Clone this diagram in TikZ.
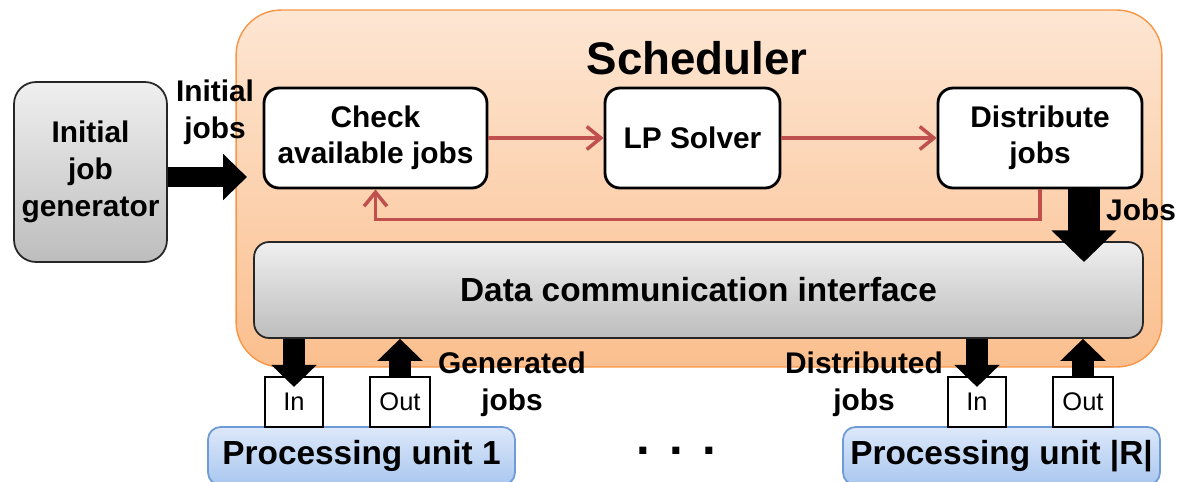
\documentclass[tikz,border=0pt]{standalone}
\usepackage{fontspec}
\setmainfont{Liberation Sans}
\usetikzlibrary{arrows.meta,calc}
\definecolor{redarr}{HTML}{C0504D}
\definecolor{orborder}{HTML}{F79646}
\definecolor{ortop}{HTML}{FDE6D3}
\definecolor{orbot}{HTML}{FBBF8E}
\definecolor{graytop}{HTML}{EFEFEF}
\definecolor{graybot}{HTML}{BDBDBD}
\definecolor{bluetop}{HTML}{DDE8FA}
\definecolor{bluebot}{HTML}{A9C7EF}
\definecolor{blueborder}{HTML}{6E9BD5}
\tikzset{
  lbl/.style={font=\bfseries\fontsize{17}{21}\selectfont, align=center, inner sep=0pt},
  whitebox/.style={draw=black, line width=1.6pt, fill=white, rounded corners=0.3cm,
    font=\bfseries\fontsize{17}{20.5}\selectfont, align=center, minimum height=2cm, inner sep=0pt},
  graybox/.style={draw=black!85, line width=1pt, top color=graytop, bottom color=graybot,
    font=\bfseries\fontsize{17}{21}\selectfont, align=center, inner sep=0pt},
  bluebox/.style={draw=blueborder, line width=1pt, top color=bluetop, bottom color=bluebot,
    rounded corners=0.25cm, font=\bfseries\fontsize{19}{22}\selectfont, inner sep=0pt},
  portbox/.style={draw=black, line width=1.2pt, fill=white, minimum width=1.16cm,
    minimum height=1cm, inner sep=0pt, font=\fontsize{14.5}{17}\selectfont},
  redflow/.style={draw=redarr, line width=2pt, -{Straight Barb[length=8pt,width=13pt,line width=2pt]}},
  fatarrow/.style={draw=black, line width=11pt, -{Triangle[width=25.5pt,length=13.6pt]}},
  portarrow/.style={draw=black, line width=12.5pt, -{Triangle[width=25pt,length=12.5pt]}},
  jobsarrow/.style={draw=black, line width=18pt, -{Triangle[width=36pt,length=18pt]}}
}
\begin{document}
\begin{tikzpicture}[x=0.02cm,y=-0.02cm]
\useasboundingbox (0,0) rectangle (1178,481);

% scheduler container
\node[draw=orborder, line width=0.8pt, top color=ortop, bottom color=orbot,
      rounded corners=0.9cm, minimum width=18.52cm, minimum height=7.14cm, inner sep=0pt]
      (sched) at (699,188.5) {};
\node[font=\bfseries\fontsize{26}{30}\selectfont, inner sep=0pt] (title) at (697,58) {Scheduler};

% initial job generator
\node[graybox, rounded corners=0.44cm, minimum width=3.06cm, minimum height=3.6cm]
      (gen) at (90.5,172) {Initial\\job\\generator};

% scheduler internals
\node[whitebox, minimum width=4.46cm] (check) at (375.5,138) {Check\\available jobs};
\node[whitebox, minimum width=3.5cm] (lp) at (692.5,138) {LP Solver};
\node[whitebox, minimum width=4.08cm] (dist) at (1040,138) {Distribute\\jobs};

\node[graybox, rounded corners=0.3cm, minimum width=17.78cm, minimum height=1.92cm,
      font=\bfseries\fontsize{19}{22}\selectfont]
      (dci) at (698.5,290) {Data communication interface};

% processing units
\node[bluebox, minimum width=6.14cm, minimum height=1.16cm] (pu1) at (361.5,456) {Processing unit 1};
\node[bluebox, minimum width=6.34cm, minimum height=1.16cm] (puR) at (1001.5,456) {Processing unit |R|};

\node[portbox] (in1) at (294,402) {In};
\node[portbox, minimum width=1.2cm] (out1) at (400,402) {Out};
\node[portbox] (inR) at (977,402) {In};
\node[portbox, minimum width=1.2cm] (outR) at (1083,402) {Out};

% labels
\node[lbl] (lblinit) at (215,112) {Initial\\jobs};
\node[lbl] (lbljobs) at (1141,210) {Jobs};
\node[lbl] (lblgen) at (512,384) {Generated\\jobs};
\node[lbl] (lbldist) at (864,384) {Distributed\\jobs};
\node[font=\bfseries\fontsize{28}{30}\selectfont, inner sep=0pt] (dots) at (676,451) {.\hspace{11pt}.\hspace{11pt}.};

% coordinates for free ends
\coordinate (inittip) at (247,177);
\coordinate (initstart) at (gen.east |- inittip);
\coordinate (jobsstart) at ($(dist.south)+(44,0)$);
\coordinate (jobstip) at (1084,262);
\coordinate (fbR) at ($(dist.south)+(0,30)$);
\coordinate (fbL) at (check.south |- fbR);

% thick arrows
\draw[fatarrow] (initstart) -- (inittip);
\draw[jobsarrow] (jobsstart) -- (jobstip);
\draw[portarrow] (dci.south -| in1.north) -- ($(in1.north)+(0,11)$);
\draw[portarrow] (out1.north) -- (dci.south -| out1.north);
\draw[portarrow] (dci.south -| inR.north) -- ($(inR.north)+(0,11)$);
\draw[portarrow] (outR.north) -- (dci.south -| outR.north);

% red flow arrows
\draw[redflow] (check.east) -- (lp.west);
\draw[redflow] (lp.east) -- (dist.west);
\draw[redflow] (dist.south) -- (fbR) -- (fbL) -- (check.south);
\end{tikzpicture}
\end{document}
